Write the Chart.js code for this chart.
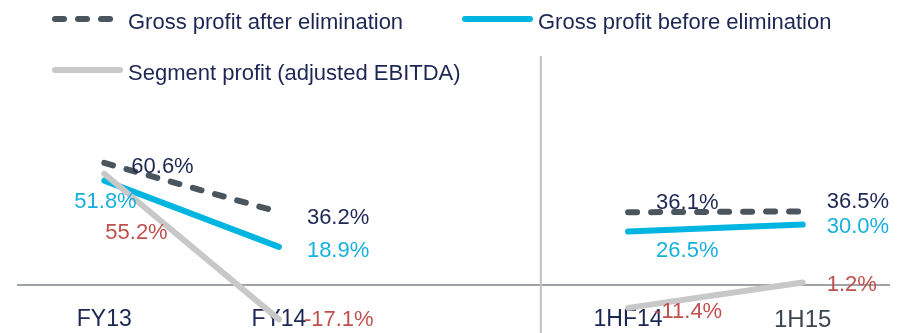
<!DOCTYPE html>
<html>
<head>
<meta charset="utf-8">
<script src="https://cdn.jsdelivr.net/npm/chart.js@4.4.1/dist/chart.umd.min.js"></script>
<style>
  html, body { margin: 0; padding: 0; background: #fff; }
  #wrap { width: 904px; height: 333px; }
</style>
</head>
<body>
<div id="wrap"><canvas id="marginChart" width="904" height="333"></canvas></div>
<script>
// Periods; the empty slot splits full years from half years
const periods = ['FY13', 'FY14', '', '1HF14', '1H15'];

// Margins in %
const grossAfter = [60.6, 36.2, null, 36.1, 36.5];
const grossBefore = [51.8, 18.9, null, 26.5, 30.0];
const segmentProfit = [55.2, -17.1, null, -11.4, 1.2];

const seriesNames = [
    'Gross profit after elimination',
    'Gross profit before elimination',
    'Segment profit (adjusted EBITDA)'
];

// Styling
const NAVY = '#1c2754';
const FONT = '"Liberation Sans", Arial, sans-serif';
const lineColors = ['#4a555e', '#00b6e0', '#c8c8c8'];
const labelColors = [NAVY, '#17b0dc', '#c0504d'];

// where each value label sits relative to its point: [dx, baseline dy]
const labelOffsets = [
    [[27, 10], [28, 12], null, [28, -3], [24, -3]],
    [[-30, 27], [28, 10], null, [28, 25], [24, 8]],
    [[1, 65], [25, 7], null, [26, 10], [24, 9]]
];

// legend boxes: sample line start/length, text position
const legendSpots = [
    {x: 52, y: 19, len: 65, tx: 128, ty: 29},
    {x: 462, y: 19, len: 71, tx: 538, ty: 29},
    {x: 52, y: 70, len: 71, tx: 128, ty: 80}
];

const legendPainter = {
    id: 'legendPainter',
    afterDraw(chart){
        const ctx = chart.ctx;
        ctx.save();
        chart.data.datasets.forEach((ds, i)=>{
            const s = legendSpots[i];
            ctx.beginPath();
            ctx.lineWidth = 6;
            ctx.lineCap = 'round';
            ctx.strokeStyle = ds.borderColor;
            ctx.setLineDash(ds.borderDash || []);
            ctx.moveTo(s.x + 3, s.y);
            ctx.lineTo(s.x + s.len - 3, s.y);
            ctx.stroke();
            ctx.setLineDash([]);
            ctx.fillStyle = NAVY;
            ctx.font = '22px ' + FONT;
            ctx.textAlign = 'left';
            ctx.textBaseline = 'alphabetic';
            ctx.fillText(ds.label, s.tx, s.ty);
        });
        ctx.restore();
    }
};

// vertical rule between the yearly and half-year blocks
const divider = {
    id: 'divider',
    beforeDatasetsDraw(chart){
        const ctx = chart.ctx;
        const x = chart.scales.x.getPixelForValue(2.5);
        ctx.save();
        ctx.strokeStyle = '#c0c0c0';
        ctx.lineWidth = 2;
        ctx.beginPath();
        ctx.moveTo(x, 56);
        ctx.lineTo(x, chart.height);
        ctx.stroke();
        ctx.restore();
    }
};

const valueLabels = {
    id: 'valueLabels',
    afterDatasetsDraw(chart){
        const ctx = chart.ctx;
        ctx.save();
        ctx.font = '22px ' + FONT;
        ctx.textAlign = 'left';
        ctx.textBaseline = 'alphabetic';
        chart.data.datasets.forEach((ds, i)=>{
            const meta = chart.getDatasetMeta(i);
            ds.data.forEach((v, j)=>{
                if(v === null) return;
                const pt = meta.data[j];
                const off = labelOffsets[i][j];
                ctx.fillStyle = labelColors[i];
                ctx.fillText(v.toFixed(1) + '%', pt.x + off[0], pt.y + off[1]);
            });
        });
        ctx.restore();
    }
};

const lineStyle = {
    borderWidth: 6,
    pointRadius: 0,
    tension: 0,
    borderCapStyle: 'round',
    clip: false,
    spanGaps: false
};

new Chart(document.getElementById('marginChart'), {
    type: 'line',
    data: {
        labels: periods,
        datasets: [
            {...lineStyle, label: seriesNames[0], data: grossAfter, borderColor: lineColors[0], borderDash: [9, 14], order: 0},
            {...lineStyle, label: seriesNames[1], data: grossBefore, borderColor: lineColors[1], order: 2},
            {...lineStyle, label: seriesNames[2], data: segmentProfit, borderColor: lineColors[2], order: 1}
        ]
    },
    options: {
        responsive: false,
        animation: false,
        layout: {padding: {top: 144, left: 17, right: 14, bottom: 0}},
        plugins: {
            legend: {display: false},
            tooltip: {enabled: false}
        },
        scales: {
            x: {
                offset: true,
                grid: {display: false},
                border: {display: false},
                afterFit(scale){ scale.height = 33; },
                ticks: {
                    padding: -2,
                    autoSkip: false,
                    maxRotation: 0,
                    color: (c)=> c.index === 4 ? '#3a4550' : NAVY,
                    font: (c)=> ({family: FONT, size: c.index === 4 ? 24 : 23})
                }
            },
            y: {
                min: -7.5,
                max: 70,
                border: {display: false},
                grid: {
                    drawTicks: false,
                    lineWidth: 2,
                    color: (c)=> c.tick && c.tick.value === 0 ? '#9fa3a7' : 'transparent'
                },
                ticks: {display: false, stepSize: 10}
            }
        }
    },
    plugins: [divider, valueLabels, legendPainter]
});
</script>
</body>
</html>
